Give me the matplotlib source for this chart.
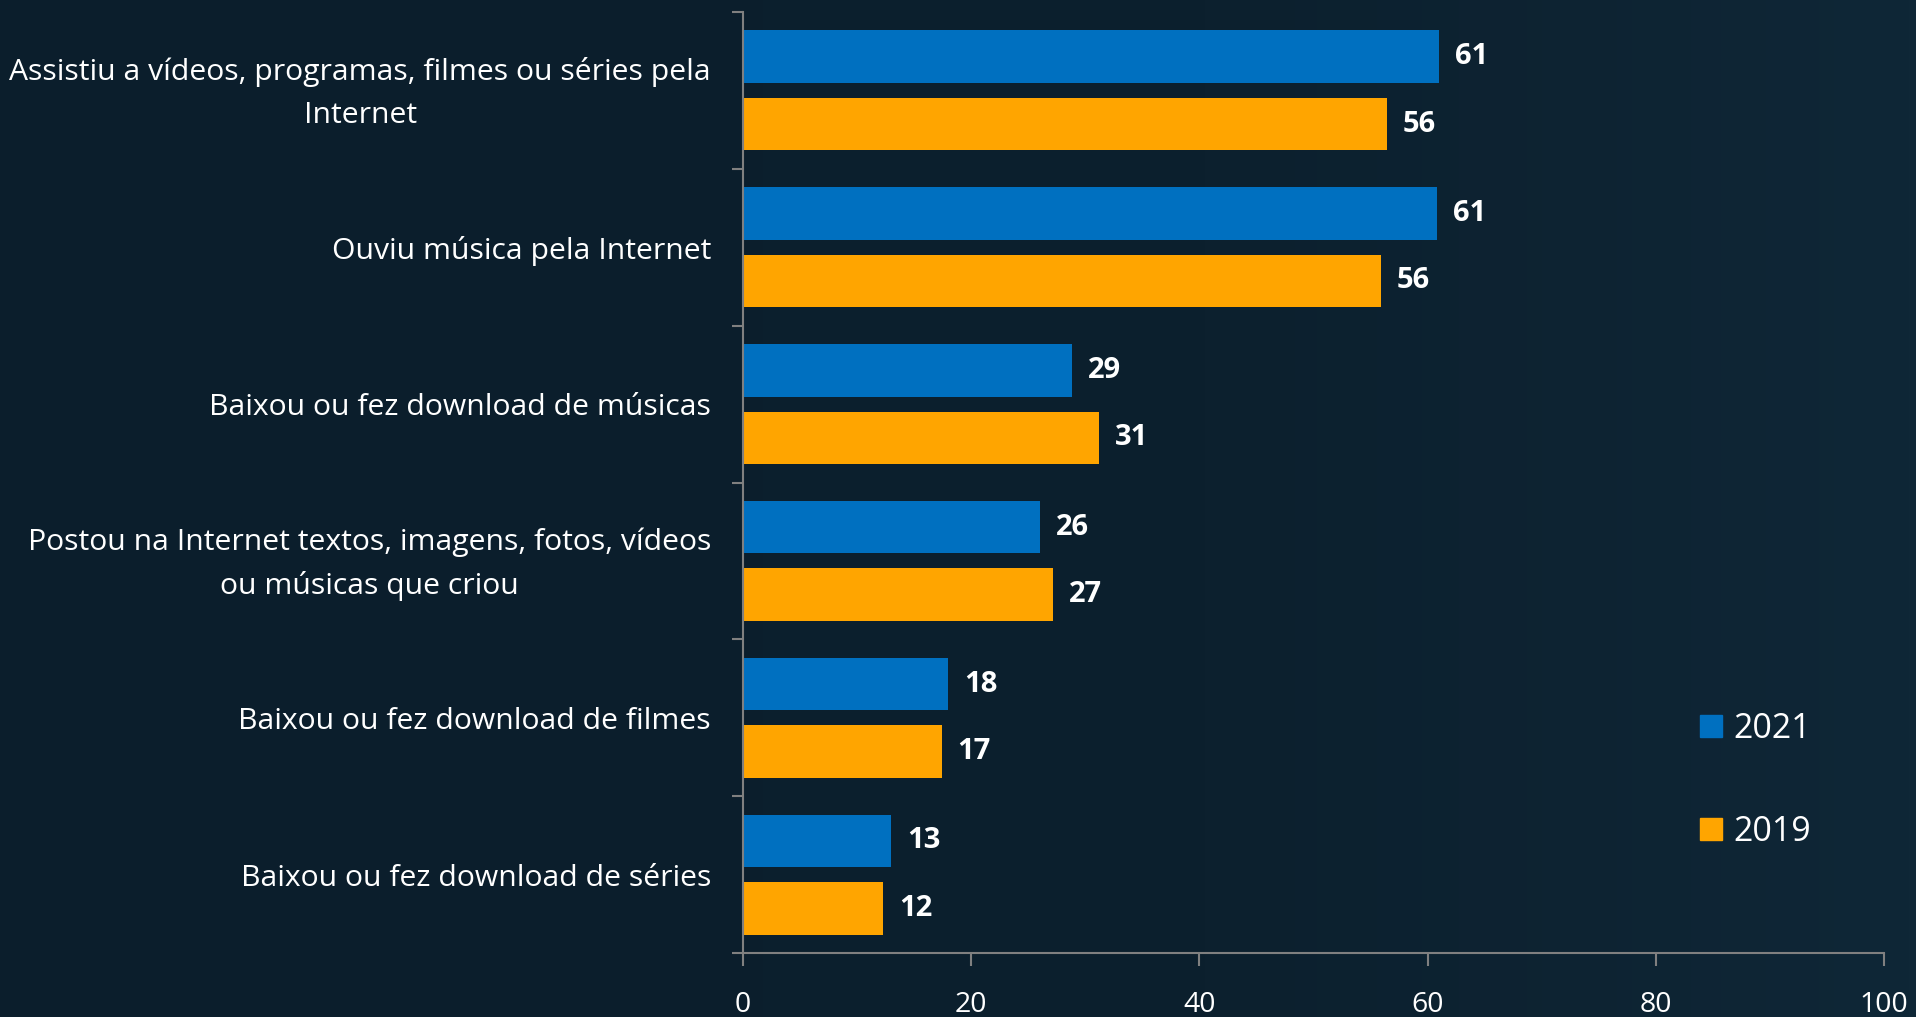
import matplotlib
matplotlib.use("Agg")
import matplotlib.pyplot as plt
from matplotlib.lines import Line2D
from matplotlib.colors import LinearSegmentedColormap
from matplotlib.transforms import ScaledTranslation
import numpy as np

plt.rcParams['font.family'] = ['Open Sans', 'DejaVu Sans']

categories = [
    "Assistiu a vídeos, programas, filmes ou séries pela\nInternet",
    "Ouviu música pela Internet",
    "Baixou ou fez download de músicas",
    "Postou na Internet textos, imagens, fotos, vídeos\nou músicas que criou",
    "Baixou ou fez download de filmes",
    "Baixou ou fez download de séries",
]
values_2021 = [61.0, 60.8, 28.8, 26.0, 18.0, 13.0]
values_2019 = [56.4, 55.9, 31.2, 27.2, 17.4, 12.3]
series_names = ["2021", "2019"]
xticks = [0, 20, 40, 60, 80, 100]

bg = '#0c1f2d'
blue = '#0070c0'
orange = '#ffa500'
spine_col = '#808080'

W, H = 1916, 1017
fig = plt.figure(figsize=(W / 100, H / 100), dpi=100, facecolor=bg)

# subtle background gradient
bgax = fig.add_axes([0, 0, 1, 1], zorder=-10)
cmap = LinearSegmentedColormap.from_list('bg', ['#0b1e2c', '#0c202e', '#0f2737'])
gx = np.linspace(0, 1, 256)
grad = np.tile(gx ** 1.5, (2, 1))
bgax.imshow(grad, aspect='auto', cmap=cmap, extent=[0, 1, 0, 1])
bgax.set_axis_off()

ax = fig.add_axes([743 / W, 1 - 953 / H, (1884 - 743) / W, (953 - 12) / H])
ax.patch.set_alpha(0)

y = np.arange(len(categories))
bh = 0.335
off = 0.215
b1 = ax.barh(y - off, values_2021, height=bh, color=blue, label=series_names[0])
b2 = ax.barh(y + off, values_2019, height=bh, color=orange, label=series_names[1])

for bars, vals in ((b1, values_2021), (b2, values_2019)):
    for rect, v in zip(bars, vals):
        ax.annotate(f"{v:.0f}", xy=(rect.get_width(), rect.get_y() + rect.get_height() / 2),
                    xytext=(11.5, 0), textcoords='offset points', va='center', ha='left',
                    color='white', fontsize=21, fontweight='bold')

ax.set_xlim(0, 100)
ax.set_ylim(len(categories) - 0.5, -0.5)
ax.set_xticks(xticks)
ax.set_xticklabels([str(t) for t in xticks])
ax.set_yticks(y)
ax.set_yticks(np.arange(-0.5, len(categories)), minor=True)

ax.tick_params(axis='y', which='major', length=0, pad=23, labelsize=21.7, labelcolor='white')
ax.tick_params(axis='y', which='minor', length=8, width=1.5, color=spine_col, direction='out')
ax.tick_params(axis='x', which='major', length=9, width=1.5, color=spine_col, direction='out',
               pad=18, labelsize=20.5, labelcolor='white')

labels = ax.set_yticklabels(categories, ha='right', multialignment='center', linespacing=1.6)
for lab in labels:
    if '\n' in lab.get_text():
        lab.set_transform(lab.get_transform() + ScaledTranslation(0, 5 / 72, fig.dpi_scale_trans))

for s in ('top', 'right'):
    ax.spines[s].set_visible(False)
for s in ('left', 'bottom'):
    ax.spines[s].set_color(spine_col)
    ax.spines[s].set_linewidth(1.5)

handles = [Line2D([], [], marker='s', linestyle='none', markersize=16, color=blue),
           Line2D([], [], marker='s', linestyle='none', markersize=16, color=orange)]
leg = fig.legend(handles, series_names, loc='upper left', bbox_to_anchor=(1694 / W, 1 - 712 / H),
                 frameon=False, fontsize=24.5, labelcolor='white', labelspacing=2.03,
                 handletextpad=0.15, handlelength=1.0, borderpad=0, borderaxespad=0)

fig.savefig('out.png', dpi=100, facecolor=bg)
